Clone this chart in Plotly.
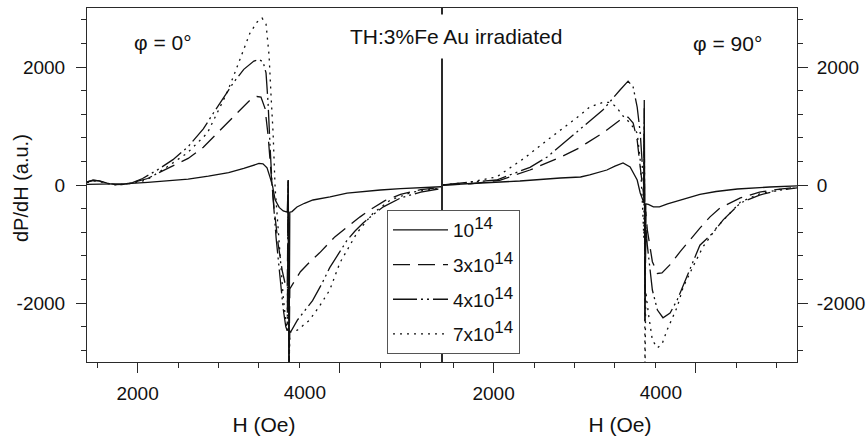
import plotly.graph_objects as go

# ---------------- data (H in Oe, dP/dH in a.u.) ----------------
SUP = "<sup><span style='font-size:17px'>14</span></sup>"
series_names = ["10" + SUP, "3x10" + SUP, "4x10" + SUP, "7x10" + SUP]

# phi = 0 deg panel
H0_s1 = [1500, 1700, 1900, 2100, 2300, 2500, 2700, 2900, 3050, 3150, 3200, 3240, 3280, 3310, 3335, 3360,
         3400, 3440, 3480, 3490, 3497, 3505, 3527, 3576, 3650, 3734, 3903, 4071, 4250, 4400, 4600, 4800, 5000]
V0_s1 = [10, 15, 25, 45, 70, 100, 150, 210, 280, 340, 365, 360, 290, 130, -20, -250,
         -380, -440, -460, 80, -3200, -460, -450, -373, -310, -254, -203, -136, -105, -85, -60, -45, -30]

H0_s2 = [1500, 1560, 1620, 1700, 1780, 1860, 1950, 2100, 2200, 2350, 2500, 2650, 2800, 2950, 3100, 3180,
         3220, 3260, 3290, 3320, 3350, 3390, 3430, 3460, 3480, 3490, 3497, 3505, 3520, 3560, 3610, 3700,
         3800, 3950, 4070, 4200, 4300, 4450, 4600, 4800, 5000]
V0_s2 = [50, 80, 70, 30, 5, 10, 40, 110, 200, 320, 450, 640, 900, 1160, 1420, 1500,
         1490, 1300, 850, 200, -400, -1000, -1450, -1680, -1750, 80, -3200, -1760, -1720, -1620, -1470, -1310,
         -1150, -880, -710, -540, -420, -260, -160, -80, -40]

H0_s3 = [1500, 1560, 1620, 1700, 1780, 1860, 1950, 2050, 2200, 2350, 2500, 2650, 2750, 2850, 2950, 3050,
         3150, 3200, 3240, 3270, 3290, 3310, 3330, 3370, 3410, 3440, 3465, 3480, 3490, 3497, 3505, 3520,
         3580, 3650, 3730, 3820, 3900, 4000, 4070, 4150, 4230, 4330, 4430, 4600, 4800, 5000]
V0_s3 = [50, 80, 70, 30, 5, 10, 40, 110, 260, 430, 650, 950, 1220, 1480, 1740, 1960,
         2100, 2125, 2090, 1900, 1400, 650, 0, -900, -1650, -2100, -2400, -2470, 80, -3200, -2490, -2470,
         -2290, -2140, -1960, -1680, -1400, -1130, -940, -780, -645, -500, -370, -220, -120, -60]

H0_s4 = [1500, 1560, 1620, 1700, 1780, 1860, 1950, 2090, 2290, 2490, 2690, 2800, 2880, 2950, 3010, 3060,
         3110, 3180, 3230, 3270, 3300, 3320, 3340, 3360, 3400, 3440, 3465, 3480, 3490, 3497, 3505, 3530,
         3580, 3700, 3800, 3900, 4000, 4100, 4170, 4250, 4330, 4500, 4720, 5000]
V0_s4 = [40, 70, 60, 25, 5, 10, 30, 85, 305, 540, 880, 1260, 1550, 1850, 2120, 2350,
         2570, 2760, 2830, 2730, 2200, 1500, 880, -50, -1000, -1900, -2300, -2470, 80, -3200, -2500, -2480,
         -2460, -2290, -2050, -1780, -1320, -1030, -810, -640, -475, -254, -119, -50]

# phi = 90 deg panel
H90_s1 = [1500, 1870, 2260, 2660, 2860, 2950, 3120, 3200, 3280, 3350, 3420, 3450, 3478, 3486, 3490, 3497,
          3505, 3530, 3580, 3640, 3720, 3800, 3900, 4040, 4200, 4410, 4730, 5000]
V90_s1 = [0, 34, 68, 119, 136, 170, 254, 320, 373, 305, 85, -136, -288, -300, 1440, -2300,
          -320, -330, -370, -370, -320, -280, -220, -160, -110, -68, -34, -15]

H90_s2 = [1500, 1770, 2060, 2360, 2660, 2860, 2920, 3080, 3250, 3330, 3380, 3420, 3450, 3478, 3486, 3490,
          3497, 3505, 3520, 3570, 3620, 3665, 3745, 3845, 3940, 4040, 4140, 4240, 4440, 4630, 4830, 5000]
V90_s2 = [0, 20, 80, 254, 470, 640, 710, 880, 1100, 1150, 1050, 760, 300, -85, -200, 900,
          -1800, -450, -760, -1300, -1500, -1490, -1350, -1130, -930, -730, -540, -390, -220, -120, -70, -40]

H90_s3 = [1500, 1770, 2030, 2360, 2530, 2800, 2920, 3080, 3250, 3330, 3380, 3420, 3450, 3478, 3486, 3490,
          3497, 3505, 3520, 3570, 3620, 3675, 3745, 3815, 3940, 4040, 4170, 4270, 4440, 4630, 4830, 5000]
V90_s3 = [0, 50, 85, 300, 475, 870, 1050, 1270, 1610, 1760, 1660, 1320, 880, 200, -50, 1300,
          -2300, -700, -1020, -1780, -2120, -2250, -2170, -1950, -1440, -1020, -810, -590, -305, -170, -85, -50]

H90_s4 = [1500, 1770, 2030, 2300, 2530, 2700, 2860, 2950, 3080, 3150, 3210, 3280, 3350, 3420, 3450, 3470,
          3486, 3490, 3497, 3505, 3530, 3570, 3620, 3665, 3715, 3815, 3875, 3970, 4070, 4210, 4440, 4630,
          4830, 5000]
V90_s4 = [0, 50, 136, 450, 760, 980, 1190, 1320, 1400, 1400, 1330, 1170, 1050, 880, 420, -250,
          -900, 1000, -3200, -1800, -2170, -2630, -2760, -2700, -2460, -2070, -1730, -1390, -1050, -710, -290, -150,
          -75, -50]

x_major_ticks = [2000, 4000]
y_major_ticks = [-2000, 0, 2000]
y_tick_text = ["-2000", "0", "2000"]

# ---------------- styling ----------------
FONT = "Liberation Sans, Arial, Helvetica, sans-serif"
INK = "#111111"
AXC = "#2a2a2a"
dashes = ["solid", "17px,8px", "24px,4px,2px,4px,2px,4px", "2px,5px"]

panel0 = [(H0_s1, V0_s1), (H0_s2, V0_s2), (H0_s3, V0_s3), (H0_s4, V0_s4)]
panel90 = [(H90_s1, V90_s1), (H90_s2, V90_s2), (H90_s3, V90_s3), (H90_s4, V90_s4)]

fig = go.Figure()
for i, (h, v) in enumerate(panel0):
    fig.add_trace(go.Scatter(x=h, y=v, mode="lines", name=series_names[i], legendgroup=f"g{i}",
                             line=dict(color=INK, width=1.3, dash=dashes[i]),
                             xaxis="x", yaxis="y", showlegend=True))
for i, (h, v) in enumerate(panel90):
    fig.add_trace(go.Scatter(x=h, y=v, mode="lines", name=series_names[i], legendgroup=f"g{i}",
                             line=dict(color=INK, width=1.3, dash=dashes[i]),
                             xaxis="x2", yaxis="y2", showlegend=False))
# empty traces that carry the offset "4000" tick-label axes
fig.add_trace(go.Scatter(x=[None], y=[None], xaxis="x3", yaxis="y", showlegend=False, hoverinfo="skip"))
fig.add_trace(go.Scatter(x=[None], y=[None], xaxis="x4", yaxis="y2", showlegend=False, hoverinfo="skip"))

W = 710.0
xcommon = dict(range=[1500, 5000], showline=True, linecolor=AXC, linewidth=1, mirror=True,
               ticks="outside", ticklen=10, tickcolor=AXC, tickwidth=1, automargin=False,
               tickvals=x_major_ticks, ticktext=["2000", ""],
               minor=dict(tick0=0, dtick=400, ticks="outside", ticklen=5, tickcolor=AXC, tickwidth=1),
               showgrid=False, zeroline=False, tickfont=dict(size=19, color=INK, family=FONT),
               title=dict(text="H (Oe)", font=dict(size=21, color=INK, family=FONT), standoff=14),
               ticklabelstandoff=4)
ycommon = dict(range=[-3000, 3000], showline=True, linecolor=AXC, linewidth=1, mirror=True,
               ticks="outside", ticklen=10, tickcolor=AXC, tickwidth=1, automargin=False,
               tickvals=y_major_ticks, ticktext=y_tick_text,
               minor=dict(tick0=0, dtick=400, ticks="outside", ticklen=5, tickcolor=AXC, tickwidth=1),
               showgrid=False, zeroline=False, tickfont=dict(size=19, color=INK, family=FONT))
labelaxis = dict(range=[1500, 5000], showline=False, ticks="", showgrid=False, zeroline=False,
                 automargin=False,
                 tickvals=[4000], ticktext=["4000"], ticklabelshift=-35, ticklabelstandoff=17,
                 tickfont=dict(size=19, color=INK, family=FONT), side="bottom")

ann = dict(xref="paper", yref="paper", showarrow=False, xanchor="center", yanchor="middle")

fig.update_layout(
    width=868, height=443,
    margin=dict(l=87, r=71, t=8, b=81, autoexpand=False),
    paper_bgcolor="white", plot_bgcolor="white",
    font=dict(family=FONT, color=INK),
    xaxis=dict(domain=[0, 354 / W], anchor="y", **xcommon),
    xaxis2=dict(domain=[356 / W, 1], anchor="y2", **xcommon),
    xaxis3=dict(overlaying="x", anchor="y", **labelaxis),
    xaxis4=dict(overlaying="x2", anchor="y2", **labelaxis),
    yaxis=dict(anchor="x", side="left", ticklabelstandoff=7, **ycommon),
    yaxis2=dict(anchor="x2", side="right", ticklabelstandoff=5, **ycommon),
    showlegend=True,
    legend=dict(x=(387 - 87) / W, y=(362 - 210) / 354, xanchor="left", yanchor="top",
                bordercolor="#555555", borderwidth=1, bgcolor="white",
                font=dict(size=19, color=INK, family=FONT), tracegroupgap=7, itemwidth=55),
    annotations=[
        dict(text="TH:3%Fe Au irradiated", x=(456 - 87) / W, y=(362 - 36) / 354,
             font=dict(size=21, color=INK, family=FONT), bgcolor="white", borderpad=10, **ann),
        dict(text="φ = 0°", x=(163 - 87) / W, y=(362 - 42) / 354,
             font=dict(size=21, color=INK, family=FONT), **ann),
        dict(text="φ = 90°", x=(727 - 87) / W, y=(362 - 43) / 354,
             font=dict(size=21, color=INK, family=FONT), **ann),
        dict(text="dP/dH (a.u.)", x=(21 - 87) / W, y=(362 - 188) / 354, textangle=-90,
             font=dict(size=20, color=INK, family=FONT), **ann),
    ],
)

fig.write_html("out.html")
